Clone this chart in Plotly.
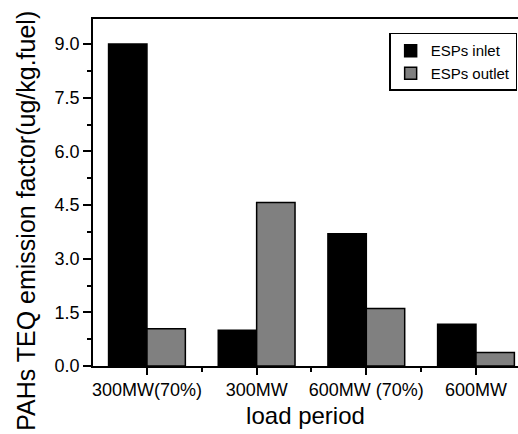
import plotly.graph_objects as go

categories = ["300MW(70%)", "300MW", "600MW (70%)", "600MW"]
espsp_inlet = [9.0, 1.0, 3.70, 1.17]
espsp_outlet = [1.04, 4.57, 1.61, 0.38]
y_ticks = [0.0, 1.5, 3.0, 4.5, 6.0, 7.5, 9.0]

FONT = "Liberation Sans, Arial, sans-serif"
xpos = list(range(len(categories)))

fig = go.Figure()
fig.add_trace(go.Bar(x=xpos, y=espsp_inlet, name="ESPs inlet",
                     marker=dict(color="#000000", line=dict(color="black", width=1.5))))
fig.add_trace(go.Bar(x=xpos, y=espsp_outlet, name="ESPs outlet",
                     marker=dict(color="#808080", line=dict(color="black", width=1.5))))

fig.update_layout(
    width=518, height=434,
    margin=dict(l=93, r=0, t=19, b=68),
    paper_bgcolor="white", plot_bgcolor="white",
    barmode="group", bargap=0.3, bargroupgap=0,
    font=dict(family=FONT, color="black"),
    showlegend=True,
    legend=dict(x=0.998, xanchor="right", y=0.96, yanchor="top",
                bordercolor="black", borderwidth=1.5, bgcolor="white",
                font=dict(size=15, family=FONT), tracegroupgap=0,
                itemwidth=30),
    xaxis=dict(
        range=[-0.492, 3.383],
        tickmode="array", tickvals=xpos, ticktext=categories,
        showline=True, linecolor="black", linewidth=1.5, mirror=True,
        ticks="outside", ticklen=7, tickwidth=1.5, tickcolor="black",
        tickfont=dict(size=18, family=FONT),
        minor=dict(tickmode="linear", tick0=0.5, dtick=1, ticks="outside",
                   ticklen=4, tickwidth=1.5, tickcolor="black"),
        showgrid=False, zeroline=False,
        title=dict(text="load period", font=dict(size=24, family=FONT), standoff=8),
    ),
    yaxis=dict(
        range=[0, 9.7],
        tickmode="array", tickvals=y_ticks, tickformat=".1f",
        showline=True, linecolor="black", linewidth=1.5, mirror=False,
        ticks="outside", ticklen=8, tickwidth=1.5, tickcolor="black",
        tickfont=dict(size=18, family=FONT),
        minor=dict(tickmode="linear", tick0=0, dtick=0.75, ticks="outside",
                   ticklen=4, tickwidth=1.5, tickcolor="black"),
        showgrid=False, zeroline=False,
    ),
    annotations=[dict(
        text="PAHs TEQ emission factor(ug/kg.fuel)",
        textangle=-90, xref="paper", yref="paper",
        x=-0.158, y=0.418, xanchor="center", yanchor="middle",
        showarrow=False, font=dict(size=25, family=FONT),
    )],
)

fig.write_html("out.html", config={"displayModeBar": False},
               post_script="document.body.style.margin='0';document.body.style.overflow='hidden';")
